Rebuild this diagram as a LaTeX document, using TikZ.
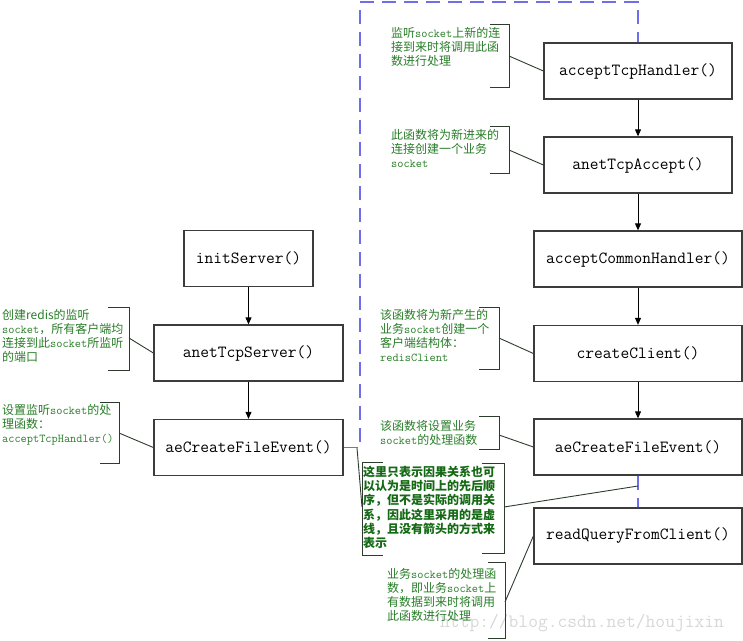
\documentclass[tikz,border=0pt]{standalone}
\usepackage{fontspec}
\newfontfamily\cjk{Noto Sans CJK SC}
\usetikzlibrary{arrows.meta}
\definecolor{notegreen}{RGB}{40,125,40}
\definecolor{boldgreen}{RGB}{20,105,20}
\definecolor{dashblue}{RGB}{110,110,235}
\definecolor{boxgray}{RGB}{60,60,60}
\definecolor{brackgray}{RGB}{45,60,45}
\definecolor{markgray}{RGB}{215,215,215}

\begin{document}
\begin{tikzpicture}[x=1pt,y=-1pt,
	func/.style={draw=boxgray,line width=1.3pt,rectangle,minimum height=56pt,inner sep=0pt,font=\ttfamily\fontsize{17}{20}\selectfont},
	note/.style={anchor=north west,inner sep=0pt,align=left,text=notegreen,font=\cjk\fontsize{12}{14.2}\selectfont},
	brack/.style={draw=brackgray,line width=0.9pt},
	call/.style={-{Triangle[length=7pt,width=6pt]},line width=0.9pt},
	order/.style={dashblue,line width=1.5pt,dash pattern=on 14pt off 8pt}]
	\useasboundingbox (0,0) rectangle (743,640);

	%watermark
	\node[anchor=base west,inner sep=0pt,text=markgray,font=\ttfamily\fontsize{19}{20}\selectfont] (mark) at (440,627) {http://blog.csdn.net/houjixin};

	%server side
	\node[func,minimum width=129pt] (init) at (248.5,258.5) {initServer()};
	\node[func,minimum width=189pt] (tcpserver) at (248.5,353) {anetTcpServer()};
	\node[func,minimum width=189pt] (lfe) at (248.5,447.5) {aeCreateFileEvent()};

	%client side
	\node[func,minimum width=188pt] (handler) at (638,71) {acceptTcpHandler()};
	\node[func,minimum width=188pt] (accept) at (638,165) {anetTcpAccept()};
	\node[func,minimum width=208pt] (common) at (638,259) {acceptCommonHandler()};
	\node[func,minimum width=208pt] (client) at (638,353.5) {createClient()};
	\node[func,minimum width=208pt] (rfe) at (638,447) {aeCreateFileEvent()};
	\node[func,minimum width=208pt] (query) at (638,536) {readQueryFromClient()};

	%calls
	\draw[call] (init) -- (tcpserver);
	\draw[call] (tcpserver) -- (lfe);
	\draw[call] (handler) -- (accept);
	\draw[call] (accept) -- (common);
	\draw[call] (common) -- (client);
	\draw[call] (client) -- (rfe);

	%dashed order lines
	\coordinate (dtop) at (360,2);
	\draw[order] (lfe.east) -| (dtop) -| (handler.north);
	\draw[order] (rfe.south) -- (query.north);
	\coordinate (dcorner) at (357,448);
	\coordinate (dmid) at (638,486);

	%notes
	\node[note] (nL1) at (2,309) {创建redis的监听\\{\ttfamily socket}，所有客户端均\\连接到此{\ttfamily socket}所监听\\的端口};
	\node[note] (nL2) at (2,404) {设置监听{\ttfamily socket}的处\\理函数：\\{\ttfamily acceptTcpHandler()}};
	\node[note] (nR1) at (391,27) {监听{\ttfamily socket}上新的连\\接到来时将调用此函\\数进行处理};
	\node[note] (nR2) at (391,129) {此函数将为新进来的\\连接创建一个业务\\{\ttfamily socket}};
	\node[note] (nR3) at (380,309) {该函数将为新产生的\\业务{\ttfamily socket}创建一个\\客户端结构体：\\{\ttfamily redisClient}};
	\node[note] (nR4) at (380,420) {该函数将设置业务\\{\ttfamily socket}的处理函数};
	\node[note,text=boldgreen,font=\cjk\bfseries\fontsize{12}{14.2}\selectfont] (nmid) at (363,466) {这里只表示因果关系也可\\以认为是时间上的先后顺\\序，但不是实际的调用关\\系，因此这里采用的是虚\\线，且没有箭头的方式来\\表示};
	\node[note] (nQ) at (387,568) {业务{\ttfamily socket}的处理函\\数，即业务{\ttfamily socket}上\\有数据到来时将调用\\此函数进行处理};

	%brackets
	\draw[brack] (108,307) -- (129,307) -- (129,370) -- (108,370);
	\draw[brack] (100,402) -- (119,402) -- (119,463) -- (100,463);
	\draw[brack] (490,24) -- (509,24) -- (509,87) -- (490,87);
	\draw[brack] (490,126) -- (509,126) -- (509,173) -- (490,173);
	\draw[brack] (479,307) -- (499,307) -- (499,369) -- (479,369);
	\draw[brack] (479,416) -- (499,416) -- (499,449) -- (479,449);
	\draw[brack] (383,462) -- (362,462) -- (362,555) -- (383,555);
	\draw[brack] (482,463) -- (504,463) -- (504,553) -- (482,553);
	\draw[brack] (488,562) -- (505,562) -- (505,638) -- (488,638);

	%leaders
	\coordinate (bL1) at (129,338);
	\coordinate (bL2) at (119,433);
	\coordinate (bR1) at (509,56);
	\coordinate (bR2) at (509,150);
	\coordinate (bR3) at (499,338);
	\coordinate (bR4) at (499,435);
	\coordinate (bM1) at (362,507);
	\coordinate (bM2) at (504,507);
	\coordinate (bQ) at (505,602);
	\draw[brack] (bL1) -- (tcpserver.west);
	\draw[brack] (bL2) -- (lfe.west);
	\draw[brack] (bR1) -- (handler.west);
	\draw[brack] (bR2) -- (accept.west);
	\draw[brack] (bR3) -- (client.west);
	\draw[brack] (bR4) -- (rfe.west);
	\draw[brack] (bM1) -- (dcorner);
	\draw[brack] (bM2) -- (dmid);
	\draw[brack] (bQ) -- (query.west);
\end{tikzpicture}
\end{document}
